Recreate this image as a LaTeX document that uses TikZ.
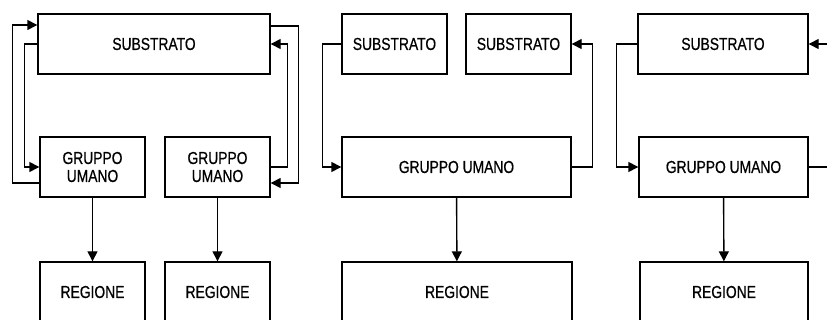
\documentclass[tikz,border=0pt]{standalone}
\usepackage{fontspec}
\setmainfont{Liberation Sans}[FakeStretch=0.8, FakeBold=0.6]
\usetikzlibrary{arrows.meta}

\begin{document}
\begin{tikzpicture}[x=1pt, y=-1pt, line width=1.4pt,
    box/.style={draw, rectangle, minimum height=60pt, inner sep=0pt, align=center,
        font=\fontsize{17.3}{18}\selectfont},
    arr/.style={-{Triangle[length=10pt,width=10pt]}}]

    % Frame of the page
    \clip (0,0) rectangle (827,320);

    % First scheme: one substrate, two groups
    \node[box, minimum width=232pt] (sub1) at (154,44) {SUBSTRATO};
    \node[box, minimum width=105pt] (gu1a) at (92.5,167) {GRUPPO\\UMANO};
    \node[box, minimum width=105pt] (gu1b) at (217.5,167) {GRUPPO\\UMANO};
    \node[box, minimum width=105pt] (reg1a) at (92.5,292) {REGIONE};
    \node[box, minimum width=105pt] (reg1b) at (217.5,292) {REGIONE};
    \draw[arr] (gu1a) -- (reg1a);
    \draw[arr] (gu1b) -- (reg1b);
    \draw[arr] ([yshift=-16pt]gu1a.west) -- ++(-27,0) |- ([yshift=19pt]sub1.west);
    \draw[arr] (sub1.west) -- ++(-13,0) |- (gu1a.west);
    \draw[arr] ([yshift=18pt]sub1.east) -- ++(28,0) |- ([yshift=-16pt]gu1b.east);
    \draw[arr] (gu1b.east) -- ++(17,0) |- (sub1.east);

    % Second scheme: two substrates, one group
    \node[box, minimum width=105pt] (sub2a) at (394.5,44) {SUBSTRATO};
    \node[box, minimum width=105pt] (sub2b) at (518.5,44) {SUBSTRATO};
    \node[box, minimum width=229pt] (gu2) at (456.5,167) {GRUPPO UMANO};
    \node[box, minimum width=230pt] (reg2) at (457,292) {REGIONE};
    \draw[arr] (gu2) -- (reg2);
    \draw[arr] (sub2a.west) -- ++(-19,0) |- (gu2.west);
    \draw[arr] (gu2.east) -- ++(21,0) |- (sub2b.east);

    % Third scheme: one substrate, one group
    \node[box, minimum width=170pt] (sub3) at (723,44) {SUBSTRATO};
    \node[box, minimum width=169pt] (gu3) at (723.5,167) {GRUPPO UMANO};
    \node[box, minimum width=168pt] (reg3) at (724,292) {REGIONE};
    \draw[arr] (gu3) -- (reg3);
    \draw[arr] (sub3.west) -- ++(-21,0) |- (gu3.west);
    \draw[arr] (gu3.east) -- ++(25,0) |- (sub3.east);

\end{tikzpicture}
\end{document}
